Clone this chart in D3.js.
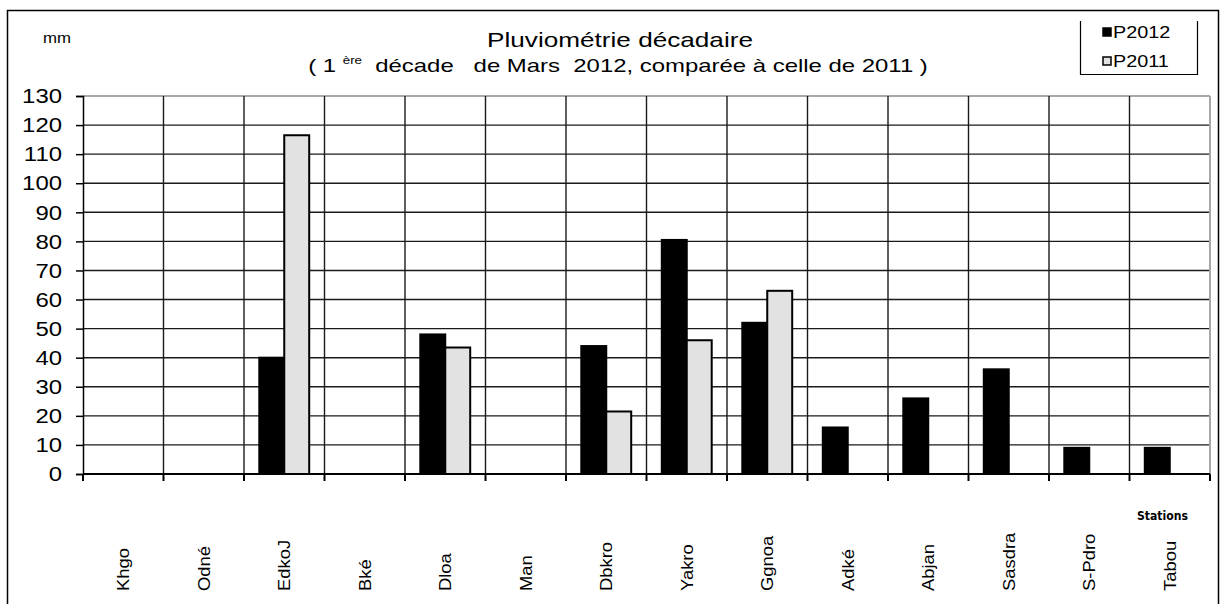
<!DOCTYPE html>
<html>
<head>
<meta charset="utf-8">
<script src="https://cdn.jsdelivr.net/npm/d3@7"></script>
<style>
  html, body { margin: 0; padding: 0; background: #fff; }
  svg { display: block; }
  text { font-family: "Liberation Sans", Arial, sans-serif; fill: #000; }
</style>
</head>
<body>
<svg id="chart" width="1223" height="604"></svg>
<script>
// Stations and ten-day rainfall (mm)
const stations = ["Khgo", "Odné", "EdkoJ", "Bké", "Dloa", "Man", "Dbkro", "Yakro", "Ggnoa", "Adké", "Abjan", "Sasdra", "S-Pdro", "Tabou"];
const p2012 = [0, 0, 40, 0, 48, 0, 44, 80.5, 52, 16, 26, 36, 9, 9];
const p2011 = [0, 0, 116.5, 0, 43.5, 0, 21.5, 46, 63, 0, 0, 0, 0, 0];
const seriesNames = ["P2012", "P2011"];
const seriesColors = ["#000000", "#e2e2e2"];
const yTicks = [0, 10, 20, 30, 40, 50, 60, 70, 80, 90, 100, 110, 120, 130];

const svg = d3.select("#chart");
const plot = { left: 83, right: 1210, top: 96, bottom: 474 };

// text placed in a group so the glyphs can be widened along the reading direction
function wideText(parent, x, y, sx, opts = {}) {
  const g = parent.append("g")
    .attr("transform", `translate(${x},${y})${opts.rotate ? ` rotate(${opts.rotate})` : ""} scale(${sx},1)`);
  return g.append("text")
    .attr("text-anchor", opts.anchor || "start")
    .style("font-size", (opts.size || 12) + "px");
}

// frame
svg.append("rect")
  .attr("x", 7.5).attr("y", 10.5).attr("width", 1211).attr("height", 600)
  .attr("fill", "#fff").attr("stroke", "#000").attr("stroke-width", 1.5);

const x0 = d3.scaleBand().domain(stations).range([plot.left, plot.right]).padding(0);
const x1 = d3.scaleBand().domain(seriesNames)
  .range([x0.bandwidth() * 0.19, x0.bandwidth() * 0.81]).padding(0);
const y = d3.scaleLinear().domain([0, 130]).range([plot.bottom, plot.top]);

// horizontal gridlines
svg.append("g").selectAll("line").data(yTicks.filter(v => v > 0)).join("line")
  .attr("x1", plot.left).attr("x2", plot.right)
  .attr("y1", d => y(d)).attr("y2", d => y(d))
  .attr("stroke", d => d === 130 ? "#a8a8a8" : "#1a1a1a")
  .attr("stroke-width", d => d === 130 ? 2 : 1.4);

// vertical gridlines between stations
const bounds = stations.slice(1).map(s => x0(s));
svg.append("g").selectAll("line").data(bounds).join("line")
  .attr("x1", d => d).attr("x2", d => d)
  .attr("y1", plot.top).attr("y2", plot.bottom)
  .attr("stroke", "#1a1a1a").attr("stroke-width", 1.4);

// right edge of the plot area
svg.append("line")
  .attr("x1", plot.right).attr("x2", plot.right)
  .attr("y1", plot.top).attr("y2", plot.bottom)
  .attr("stroke", "#a8a8a8").attr("stroke-width", 2);

// bars
const rows = [];
stations.forEach((s, i) => {
  [p2012[i], p2011[i]].forEach((v, k) => {
    if (v > 0) rows.push({ station: s, series: seriesNames[k], value: v, k });
  });
});
svg.append("g").selectAll("rect").data(rows).join("rect")
  .attr("x", d => x0(d.station) + x1(d.series))
  .attr("width", x1.bandwidth())
  .attr("y", d => y(d.value))
  .attr("height", d => y(0) - y(d.value))
  .attr("fill", d => seriesColors[d.k])
  .attr("stroke", "#000")
  .attr("stroke-width", 2);

// y axis
const tickSx = 1.14;
const yAxis = d3.axisLeft(y).tickValues(yTicks).tickSize(7).tickPadding(21);
const gy = svg.append("g").attr("transform", `translate(${plot.left},0)`).call(yAxis);
gy.select(".domain").attr("stroke", "#000").attr("stroke-width", 1.5);
gy.selectAll(".tick line").attr("stroke", "#000").attr("stroke-width", 1.5);
gy.selectAll(".tick text")
  .attr("x", -21 / tickSx)
  .attr("transform", `scale(${tickSx},1)`)
  .style("font-family", "'Liberation Sans', Arial, sans-serif")
  .style("font-size", "21px").attr("fill", "#000");

// x axis baseline with tick marks at station boundaries
svg.append("line")
  .attr("x1", plot.left).attr("x2", plot.right)
  .attr("y1", plot.bottom).attr("y2", plot.bottom)
  .attr("stroke", "#000").attr("stroke-width", 2.2);
const xTickPos = [plot.left, ...bounds, plot.right];
svg.append("g").selectAll("line").data(xTickPos).join("line")
  .attr("x1", d => d).attr("x2", d => d)
  .attr("y1", plot.bottom).attr("y2", plot.bottom + 7)
  .attr("stroke", "#000").attr("stroke-width", 2);

// station names, rotated
stations.forEach(s => {
  wideText(svg, x0(s) + x0.bandwidth() / 2 + 6, 591, 1.15, { rotate: -90, size: 16 }).text(s);
});

// "Stations" axis caption
svg.append("text")
  .attr("x", 1137).attr("y", 520)
  .attr("textLength", 51).attr("lengthAdjust", "spacingAndGlyphs")
  .style("font-family", "'DejaVu Sans Condensed', 'Liberation Sans Narrow', sans-serif")
  .style("font-weight", "bold").style("font-size", "12.5px")
  .text("Stations");

// unit label
wideText(svg, 43, 43, 1.2, { size: 14 }).text("mm");

// titles
wideText(svg, 620, 47, 1.245, { anchor: "middle", size: 21 }).text("Pluviométrie décadaire");
const sub = wideText(svg, 618, 72, 1.33, { anchor: "middle", size: 18 }).attr("xml:space", "preserve");
sub.append("tspan").text("( 1 ");
sub.append("tspan").attr("dy", -8).style("font-size", "10px").text("ère");
sub.append("tspan").attr("dy", 8).text("  décade   de Mars  2012, comparée à celle de 2011 )");

// legend (open top)
const lg = svg.append("g");
lg.append("path")
  .attr("d", "M1080.5,21 V74.5 H1197.5 V21")
  .attr("fill", "none").attr("stroke", "#000").attr("stroke-width", 1.2);
seriesNames.forEach((name, i) => {
  const base = 38 + i * 29;
  lg.append("rect").attr("x", 1103).attr("y", base - 10).attr("width", 8).attr("height", 8)
    .attr("fill", seriesColors[i]).attr("stroke", "#000").attr("stroke-width", 1.5);
  wideText(lg, 1113, base, 1.24, { size: 16 }).text(name);
});
</script>
</body>
</html>
